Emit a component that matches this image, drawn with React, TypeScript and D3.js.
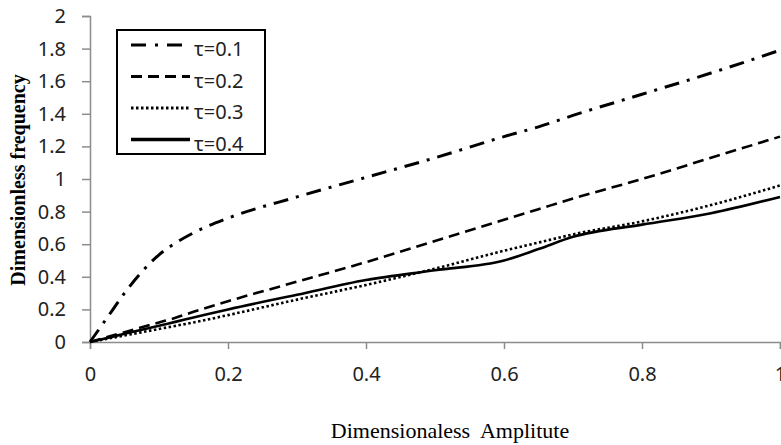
import React, { useEffect, useRef } from 'react';
import * as d3 from 'd3';

// amplitude samples shared by all series
const amplitude = [0, 0.025, 0.05, 0.075, 0.1, 0.125, 0.15, 0.2, 0.3, 0.4, 0.5, 0.6, 0.65, 0.7, 0.8, 0.9, 1.0];

const tau01 = [0, 0.15, 0.3, 0.43, 0.535, 0.61, 0.67, 0.76, 0.89, 1.01, 1.13, 1.26, 1.32, 1.39, 1.52, 1.65, 1.79];
const tau02 = [0, 0.03, 0.06, 0.09, 0.12, 0.15, 0.185, 0.25, 0.37, 0.49, 0.62, 0.75, 0.815, 0.88, 1.0, 1.13, 1.26];
const tau03 = [0, 0.02, 0.04, 0.06, 0.08, 0.1, 0.12, 0.165, 0.26, 0.35, 0.45, 0.56, 0.61, 0.66, 0.74, 0.84, 0.96];
const tau04 = [0, 0.025, 0.05, 0.075, 0.1, 0.125, 0.15, 0.2, 0.29, 0.38, 0.44, 0.5, 0.57, 0.645, 0.72, 0.79, 0.89];

const seriesLabels = ['τ=0.1', 'τ=0.2', 'τ=0.3', 'τ=0.4'];
const seriesValues = [tau01, tau02, tau03, tau04];
const dashes = ['15,8,3,8', '11,6', '2.5,2.5', null];

const xTicks = [0, 0.2, 0.4, 0.6, 0.8, 1];
const yTicks = [0, 0.2, 0.4, 0.6, 0.8, 1, 1.2, 1.4, 1.6, 1.8, 2];

const App = () => {
    const svgRef = useRef<SVGSVGElement>(null);
    const width = 781;
    const height = 445;

    useEffect(() => {
        const svg = d3.select(svgRef.current);
        svg.selectAll('*').remove();

        const margin = { top: 16, right: 1, bottom: 103, left: 90 };

        const x = d3.scaleLinear().domain([0, 1]).range([margin.left, width - margin.right]);
        const y = d3.scaleLinear().domain([0, 2]).range([height - margin.bottom, margin.top]);

        const tickFont = '"Noto Sans", "Open Sans", sans-serif';
        const serif = '"Liberation Serif", "Times New Roman", serif';

        // x axis
        const xAxis = svg.append('g')
            .attr('transform', `translate(0,${y(0)})`)
            .call(d3.axisBottom(x).tickValues(xTicks).tickSize(7).tickPadding(18)
                .tickFormat(d => d3.format('~g')(d as number)));
        xAxis.select('.domain').attr('stroke', '#8c8c8c').attr('stroke-width', 1.5);
        xAxis.selectAll('.tick line').attr('stroke', '#8c8c8c').attr('stroke-width', 1.5);
        xAxis.selectAll('.tick text')
            .attr('font-family', tickFont).attr('font-size', 20).attr('fill', '#222');

        // y axis
        const yAxis = svg.append('g')
            .attr('transform', `translate(${x(0)},0)`)
            .call(d3.axisLeft(y).tickValues(yTicks).tickSize(8).tickPadding(16)
                .tickFormat(d => d3.format('~g')(d as number)));
        yAxis.select('.domain').attr('stroke', '#8c8c8c').attr('stroke-width', 1.5);
        yAxis.selectAll('.tick line').attr('stroke', '#8c8c8c').attr('stroke-width', 1.5);
        yAxis.selectAll('.tick text')
            .attr('font-family', tickFont).attr('font-size', 20).attr('fill', '#222');

        // lines
        const line = d3.line<number>()
            .x((_, i) => x(amplitude[i]))
            .y(d => y(d))
            .curve(d3.curveMonotoneX);

        seriesValues.forEach((vals, i) => {
            const p = svg.append('path')
                .datum(vals)
                .attr('fill', 'none')
                .attr('stroke', '#000')
                .attr('stroke-width', i === 0 ? 3 : 2.6)
                .attr('d', line);
            if (dashes[i]) p.attr('stroke-dasharray', dashes[i] as string);
        });

        // legend
        const lg = svg.append('g').attr('transform', 'translate(117,30)');
        lg.append('rect')
            .attr('width', 148).attr('height', 124)
            .attr('fill', '#fff').attr('stroke', '#000').attr('stroke-width', 2);
        seriesLabels.forEach((lab, i) => {
            const cy = 15 + i * 31.5;
            const l = lg.append('line')
                .attr('x1', 14).attr('x2', 73)
                .attr('y1', cy).attr('y2', cy)
                .attr('stroke', '#000')
                .attr('stroke-width', i === 3 ? 3.5 : 3);
            if (dashes[i]) l.attr('stroke-dasharray', i === 0 ? '15,9,3,9' : dashes[i] as string);
            lg.append('text')
                .attr('x', 77).attr('y', cy + 11)
                .attr('font-family', tickFont).attr('font-size', 20)
                .attr('fill', '#222')
                .text(lab);
        });

        // axis titles
        svg.append('text')
            .attr('x', 450).attr('y', 438)
            .attr('text-anchor', 'middle')
            .attr('font-family', serif)
            .attr('font-size', 22)
            .style('white-space', 'pre')
            .text('Dimensionaless  Amplitute');

        svg.append('text')
            .attr('transform', 'translate(25,180) rotate(-90)')
            .attr('text-anchor', 'middle')
            .attr('font-family', serif)
            .attr('font-size', 20)
            .attr('font-weight', 'bold')
            .text('Dimensionless frequency');
    }, []);

    return (
        <svg ref={svgRef} width={width} height={height}
            style={{ position: 'absolute', left: 0, top: 0, background: '#fff' }} />
    );
};

export default App;
